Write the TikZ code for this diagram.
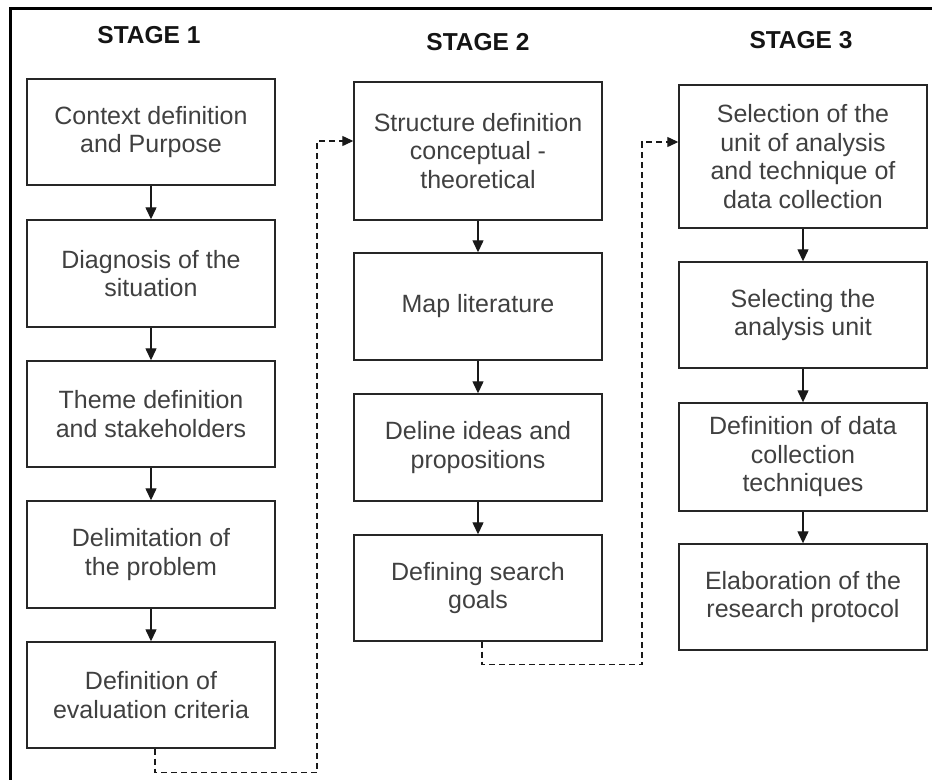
\documentclass[tikz,border=0pt]{standalone}
\usepackage{fontspec}
\setmainfont{Liberation Sans}
\usetikzlibrary{arrows.meta}

\tikzset{
  stagebox/.style={draw=black!85, line width=1.4pt, minimum width=248pt,
    inner sep=0pt, align=center, text=black!75,
    font=\fontsize{25}{28.5}\selectfont},
  stagehead/.style={font=\bfseries\fontsize{24.5}{28}\selectfont, text=black!92},
  flow/.style={draw=black!90, line width=1.3pt,
    -{Triangle[length=12pt,width=11pt]}},
  jump/.style={draw=black!90, line width=1.2pt, dash pattern=on 6pt off 4pt,
    -{Triangle[length=11pt,width=10pt]}},
  frameline/.style={line width=3pt, black}
}

\begin{document}
\begin{tikzpicture}[x=1pt,y=-1pt]
\useasboundingbox (0,0) rectangle (932,780);

% open frame: top and left edges only
\draw[frameline] (932,8) -- (10,8) -- (10,780);

% stage headings
\node[stagehead] (h1) at (149,35) {STAGE 1};
\node[stagehead] (h2) at (478,42) {STAGE 2};
\node[stagehead] (h3) at (801,40) {STAGE 3};

% stage 1
\node[stagebox, minimum height=106pt] (b11) at (151,132) {Context definition\\and Purpose};
\node[stagebox, minimum height=107pt] (b12) at (151,273.5) {Diagnosis of the\\situation};
\node[stagebox, minimum height=106pt] (b13) at (151,414) {Theme definition\\and stakeholders};
\node[stagebox, minimum height=107pt] (b14) at (151,554.5) {Delimitation of\\the problem};
\node[stagebox, minimum height=106pt] (b15) at (151,695) {Definition of\\evaluation criteria};

% stage 2
\node[stagebox, minimum height=138pt] (b21) at (478,151) {Structure definition\\conceptual -\\theoretical};
\node[stagebox, minimum height=107pt] (b22) at (478,306.5) {Map literature};
\node[stagebox, minimum height=107pt] (b23) at (478,447.5) {Deline ideas and\\propositions};
\node[stagebox, minimum height=106pt] (b24) at (478,588) {Defining search\\goals};

% stage 3
\node[stagebox, minimum height=143pt] (b31) at (803,156.5) {Selection of the\\unit of analysis\\and technique of\\data collection};
\node[stagebox, minimum height=106pt] (b32) at (803,315) {Selecting the\\analysis unit};
\node[stagebox, minimum height=108pt] (b33) at (803,457) {Definition of data\\collection\\techniques};
\node[stagebox, minimum height=106pt] (b34) at (803,597) {Elaboration of the\\research protocol};

% steps within each stage
\draw[flow] (b11) -- (b12);
\draw[flow] (b12) -- (b13);
\draw[flow] (b13) -- (b14);
\draw[flow] (b14) -- (b15);
\draw[flow] (b21) -- (b22);
\draw[flow] (b22) -- (b23);
\draw[flow] (b23) -- (b24);
\draw[flow] (b31) -- (b32);
\draw[flow] (b32) -- (b33);
\draw[flow] (b33) -- (b34);

% hand-over between stages
\coordinate (c1) at (317,141);
\coordinate (c2) at (642,142);
\draw[jump] ([xshift=4pt]b15.south) -- ++(0,24) -| (c1) -- (b21.west |- c1);
\draw[jump] ([xshift=4pt]b24.south) -- ++(0,23) -| (c2) -- (b31.west |- c2);
\end{tikzpicture}
\end{document}
